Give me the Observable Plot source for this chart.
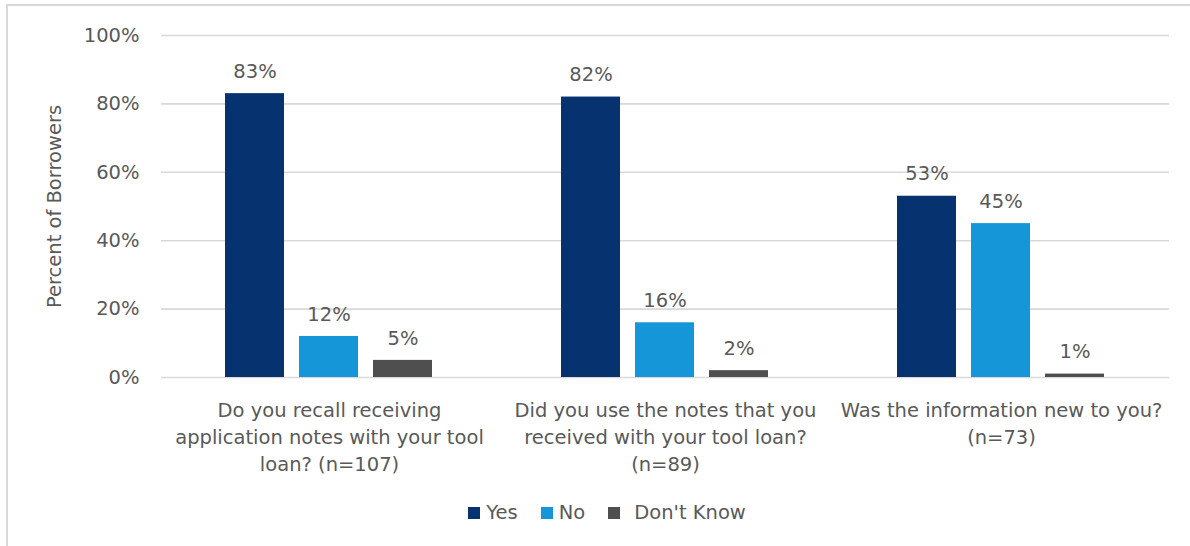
<!DOCTYPE html>
<html><head><meta charset="utf-8">
<script src="https://cdn.jsdelivr.net/npm/d3@7"></script>
<script src="https://cdn.jsdelivr.net/npm/@observablehq/plot@0.6"></script>
<style>
body{margin:0;background:#fff;overflow:hidden;width:1190px;height:546px;position:relative;font-family:"DejaVu Sans",sans-serif}
#frame{position:absolute;left:6px;top:4px;width:1200px;height:560px;border:2px solid #d9d9d9;box-sizing:border-box}
#chart{position:absolute;left:0;top:0}
#legend{position:absolute;top:496px;left:12px;width:1190px;display:flex;justify-content:center}
#legend span{margin-right:23px !important}
#legend span:last-of-type{margin-right:0 !important}
#legend span svg{margin-right:6px !important}
#legend span:nth-of-type(3) svg{margin-right:14px !important}
</style></head><body>
<div id="frame"></div>
<div id="chart"></div>
<div id="legend"></div>
<script>
const questions = [
  "Do you recall receiving application notes with your tool loan? (n=107)",
  "Did you use the notes that you received with your tool loan? (n=89)",
  "Was the information new to you? (n=73)"
];
const questionLabels = [
  "Do you recall receiving\napplication notes with your tool\nloan? (n=107)",
  "Did you use the notes that you\nreceived with your tool loan?\n(n=89)",
  "Was the information new to you?\n(n=73)"
];
const series = ["Yes", "No", "Don't Know"];
const yes = [83, 82, 53];
const no = [12, 16, 45];
const dontKnow = [5, 2, 1];
const yTicks = [0, 20, 40, 60, 80, 100];
const colors = ["#06336f", "#1496d9", "#4f4f4f"];

const data = questions.flatMap((q, i) => [
  {question: q, series: "Yes", value: yes[i]},
  {question: q, series: "No", value: no[i]},
  {question: q, series: "Don't Know", value: dontKnow[i]}
]);

const font = '"DejaVu Sans", sans-serif';
const textColor = "#595959";
const fs = 19.5;

const plot = Plot.plot({
  width: 1190,
  height: 480,
  marginLeft: 160,
  marginRight: 21,
  marginTop: 35,
  marginBottom: 103,
  style: {fontFamily: font, fontSize: fs + "px", color: textColor, background: "transparent", overflow: "visible"},
  fx: {domain: questions, padding: 0, label: null, axis: null},
  x: {domain: series, paddingInner: 0.2, paddingOuter: 0.86, axis: null},
  y: {domain: [0, 100], axis: null},
  color: {domain: series, range: colors},
  marks: [
    Plot.gridY(yTicks, {stroke: "#d9d9d9", strokeOpacity: 1, strokeWidth: 1.6}),
    Plot.axisY(yTicks, {
      tickFormat: d => d + "%", tickSize: 0, tickPadding: 22,
      label: "Percent of Borrowers", labelAnchor: "center", labelArrow: "none", labelOffset: 114,
      fill: textColor, fontSize: fs
    }),
    Plot.axisFx({
      anchor: "bottom",
      tickSize: 0, tickPadding: 20, label: null, fill: textColor, fontSize: fs, lineHeight: 1.385,
      tickFormat: q => questionLabels[questions.indexOf(q)]
    }),
    Plot.barY(data, {fx: "question", x: "series", y: "value", fill: "series"}),
    Plot.text(data, {fx: "question", x: "series", y: "value", text: d => d.value + "%", dy: -22, fill: textColor, fontSize: fs})
  ]
});
document.getElementById("chart").append(plot);

const legend = Plot.legend({
  color: {domain: series, range: colors},
  swatchSize: 12,
  style: {fontFamily: font, fontSize: fs + "px", color: textColor}
});
document.getElementById("legend").append(legend);
</script>
</body></html>
